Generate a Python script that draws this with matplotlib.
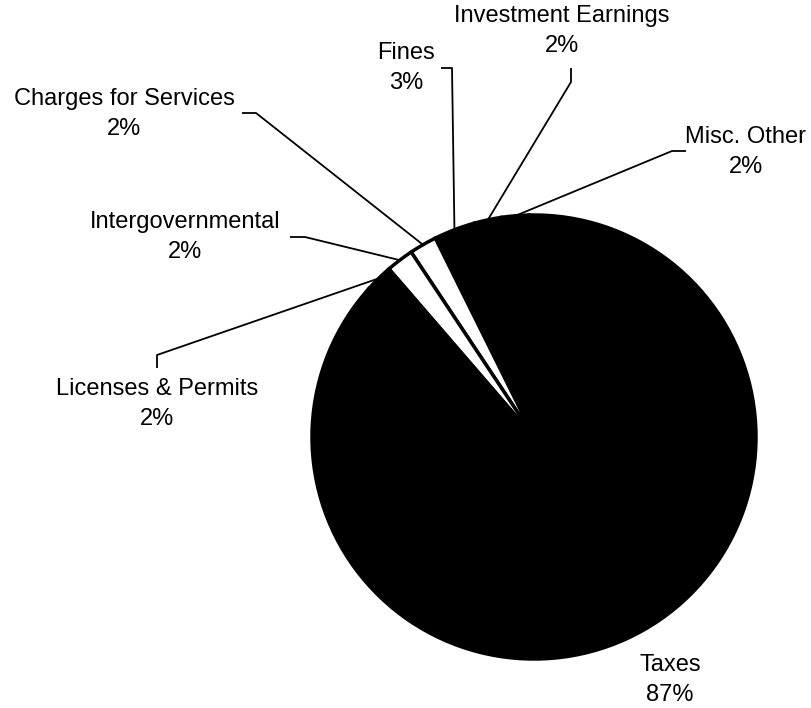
import numpy as np
import matplotlib
matplotlib.use("Agg")
import matplotlib.pyplot as plt

plt.rcParams['font.family'] = ['Liberation Sans', 'DejaVu Sans']

# Data
categories = ["Taxes", "Misc. Other", "Investment Earnings", "Fines",
              "Charges for Services", "Intergovernmental", "Licenses & Permits"]
shares = [87, 2, 2, 3, 2, 2, 2]
fills = ["black", "black", "black", "black", "white", "white", "black"]

W, H = 812, 708
fig = plt.figure(figsize=(W / 100, H / 100), dpi=100)
ax = fig.add_axes([0, 0, 1, 1])

def fy(y):
    # image pixel row -> axes y
    return H - y

cx, cy, r = 534, fy(437), 222
wedges, _ = ax.pie(shares, colors=fills, startangle=138, counterclock=True,
                   center=(cx, cy), radius=r, frame=True,
                   wedgeprops=dict(edgecolor="black", linewidth=2.5))
ax.set_xlim(0, W)
ax.set_ylim(0, H)
ax.set_aspect("equal")
ax.axis("off")

# label layout: text block center and leader elbow points, in image px
layout = {
    "Taxes": dict(text=(670, 680), elbow=None),
    "Misc. Other": dict(text=(746, 152), elbow=[(686, 151), (672, 151)]),
    "Investment Earnings": dict(text=(562, 31), elbow=[(571, 68), (571, 82)]),
    "Fines": dict(text=(406, 68), elbow=[(441, 68), (452, 68)]),
    "Charges for Services": dict(text=(124, 114), elbow=[(242, 113), (256, 113)]),
    "Intergovernmental": dict(text=(185, 237), elbow=[(290, 237), (305, 237)]),
    "Licenses & Permits": dict(text=(157, 404), elbow=[(157, 368), (157, 355)]),
}

for w, name, val in zip(wedges, categories, shares):
    lay = layout[name]
    tx, ty = lay["text"]
    ax.text(tx, fy(ty), f"{name}\n{val}%", ha="center", va="center",
            fontsize=17, linespacing=1.45, color="black")
    if lay["elbow"]:
        mid = np.deg2rad((w.theta1 + w.theta2) / 2)
        ex, ey = cx + r * np.cos(mid), cy + r * np.sin(mid)
        xs = [p[0] for p in lay["elbow"]] + [ex]
        ys = [fy(p[1]) for p in lay["elbow"]] + [ey]
        ax.plot(xs, ys, color="black", linewidth=1.3, solid_capstyle="butt")

fig.savefig("out.png", dpi=100, facecolor="white")
